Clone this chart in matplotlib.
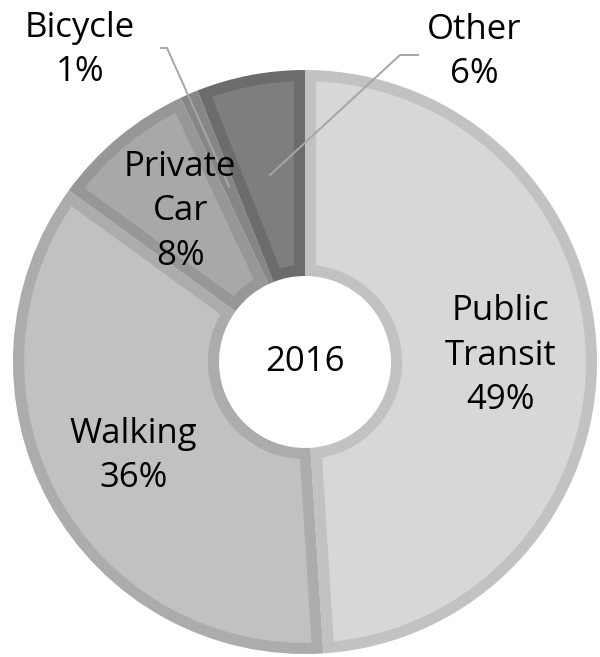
import numpy as np
import matplotlib
matplotlib.use("Agg")
import matplotlib.pyplot as plt

labels = ["Public\nTransit", "Walking", "Private\nCar", "Bicycle", "Other"]
values = [49, 36, 8, 1, 6]
year = "2016"

fills = ["#d7d7d7", "#c1c1c1", "#a8a8a8", "#959595", "#7e7e7e"]
borders = ["#c2c2c2", "#acacac", "#979797", "#868686", "#6c6c6c"]

plt.rcParams["font.family"] = ["Open Sans", "DejaVu Sans"]

W, H = 600, 657
fig = plt.figure(figsize=(W / 100, H / 100), dpi=100)
ax = fig.add_axes([0, 0, 1, 1])

cx, cy = 305, H - 362
R = 292
hole = 86

wedges, _ = ax.pie(values, colors=fills, startangle=90, counterclock=False,
                   center=(cx, cy), radius=R, frame=True,
                   wedgeprops=dict(width=R - hole, edgecolor="white", linewidth=1.2))
for w, bc in zip(wedges, borders):
    # inset border: stroke clipped to the wedge itself
    ax.add_patch(matplotlib.patches.Wedge((cx, cy), R, w.theta1, w.theta2, width=R - hole,
                                          facecolor="none", edgecolor=bc, linewidth=16,
                                          clip_path=w))
ax.set_xlim(0, W)
ax.set_ylim(0, H)
ax.set_aspect("equal")
ax.axis("off")

fs = 25
ls = 1.4
ax.text(cx, cy, year, ha="center", va="center", fontsize=fs)

def mid(w):
    return np.deg2rad((w.theta1 + w.theta2) / 2)

for i in [0, 1, 2]:
    a = mid(wedges[i])
    r = 0.67 * R
    ax.text(cx + r * np.cos(a), cy + r * np.sin(a), f"{labels[i]}\n{values[i]}%",
            ha="center", va="center", fontsize=fs, linespacing=ls)

# outside labels with leader lines
outside = {3: (80, H - 50, 167, H - 48), 4: (474, H - 52, 400, H - 55)}
for i, (tx, ty, hx, hy) in outside.items():
    a = mid(wedges[i])
    r = 0.65 * R
    ex, ey = cx + r * np.cos(a), cy + r * np.sin(a)
    sx = hx - 7 if i == 3 else hx + 19
    ax.plot([sx, hx, ex], [hy, hy, ey], color="#a6a6a6", lw=1.4, solid_capstyle="butt")
    ax.text(tx, ty, f"{labels[i]}\n{values[i]}%", ha="center", va="center",
            fontsize=fs, linespacing=ls)

fig.savefig("out.png", dpi=100, facecolor="white")
